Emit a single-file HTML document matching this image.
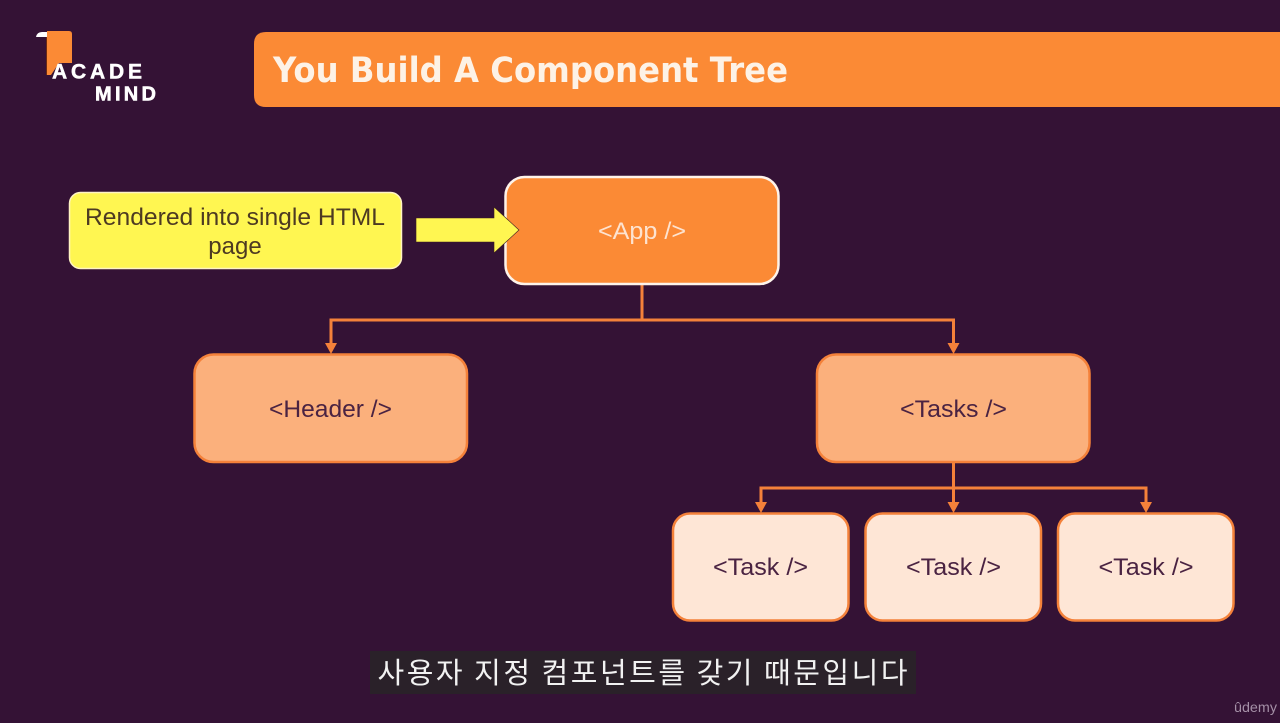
<!DOCTYPE html>
<html>
<head>
<meta charset="utf-8">
<style>
html,body{margin:0;padding:0;background:#341235;}
body{width:1280px;height:723px;overflow:hidden;position:relative;}
svg{position:absolute;left:0;top:0;filter:blur(0.35px);}
</style>
</head>
<body>
<svg width="1280" height="723" viewBox="0 0 1280 723" xmlns="http://www.w3.org/2000/svg">
<rect width="1280" height="723" fill="#341235"/>

<!-- logo -->
<path d="M46 33 H47 V75 H46 Z" fill="#6b2a12"/>
<path d="M47 31 H69 Q72 31 72 34 V63 H59 L51 75 H47 Z" fill="#fb8a35"/>
<path d="M36 37 Q37 32 42 32 H47 V37 Z" fill="#fff"/>
<text x="52" y="78.500" font-weight="700" font-size="21" fill="#fff" stroke="#fff" stroke-width="0.5" textLength="90" lengthAdjust="spacing" style="font-family:'Liberation Sans',sans-serif">ACADE</text>
<text x="95" y="100.500" font-weight="700" font-size="20" fill="#fff" stroke="#fff" stroke-width="0.6" textLength="61" lengthAdjust="spacing" style="font-family:'Liberation Sans',sans-serif">MIND</text>

<!-- title bar -->
<path d="M266 32 H1280 V107 H266 Q254 107 254 95 V44 Q254 32 266 32 Z" fill="#fb8a35"/>
<text x="273" y="82" font-weight="700" font-size="35" fill="#fdf2e6" textLength="515" lengthAdjust="spacingAndGlyphs" style="font-family:'DejaVu Sans',sans-serif">You Build A Component Tree</text>

<!-- yellow note -->
<rect x="69.500" y="192.500" width="332" height="76" rx="11" fill="#fff651" stroke="#fff3c4" stroke-width="1.500"/>
<text x="235" y="225" text-anchor="middle" font-size="24" fill="#4d3a22" textLength="300" lengthAdjust="spacingAndGlyphs" style="font-family:'Liberation Sans',sans-serif">Rendered into single HTML</text>
<text x="235" y="254" text-anchor="middle" font-size="24" fill="#4d3a22" style="font-family:'Liberation Sans',sans-serif">page</text>

<!-- connectors -->
<g fill="none" stroke="#f4813a" stroke-width="3">
<path d="M642 284 V320"/>
<path d="M331 345 V320 H953.500 V345"/>
<path d="M953.500 462 V505"/>
<path d="M761 505 V488 H1146 V505"/>
</g>
<g fill="#f4813a">
<path d="M325 343 H337 L331 354 Z"/>
<path d="M947.500 343 H959.500 L953.500 354 Z"/>
<path d="M755 502 H767 L761 513 Z"/>
<path d="M947.500 502 H959.500 L953.500 513 Z"/>
<path d="M1140 502 H1152 L1146 513 Z"/>
</g>

<!-- App -->
<rect x="505.500" y="177" width="273" height="107" rx="19" fill="#fb8a35" stroke="#fdf3ea" stroke-width="2.500"/>
<text x="642" y="239" text-anchor="middle" font-size="24" fill="#fde3d0" textLength="88" lengthAdjust="spacingAndGlyphs" style="font-family:'Liberation Sans',sans-serif">&lt;App /&gt;</text>

<!-- yellow arrow (over the App box) -->
<path d="M416 218 H494 V207 L519 230 L494 253 V242 H416 Z" fill="#fff651" stroke="#3a1d22" stroke-width="0.600"/>

<!-- Header / Tasks -->
<rect x="194.500" y="354.500" width="272.500" height="107.500" rx="19" fill="#fbb07c" stroke="#f4813a" stroke-width="2.500"/>
<text x="330.500" y="417" text-anchor="middle" font-size="24" fill="#4a2342" textLength="123" lengthAdjust="spacingAndGlyphs" style="font-family:'Liberation Sans',sans-serif">&lt;Header /&gt;</text>
<rect x="817" y="354.500" width="272.500" height="107.500" rx="19" fill="#fbb07c" stroke="#f4813a" stroke-width="2.500"/>
<text x="953.500" y="417" text-anchor="middle" font-size="24" fill="#4a2342" textLength="107" lengthAdjust="spacingAndGlyphs" style="font-family:'Liberation Sans',sans-serif">&lt;Tasks /&gt;</text>

<!-- Tasks -->
<rect x="673" y="513.500" width="175.500" height="107" rx="17" fill="#fee6d6" stroke="#f4813a" stroke-width="2.500"/>
<text x="760.500" y="575" text-anchor="middle" font-size="24" fill="#4a2342" textLength="95" lengthAdjust="spacingAndGlyphs" style="font-family:'Liberation Sans',sans-serif">&lt;Task /&gt;</text>
<rect x="865.500" y="513.500" width="175.500" height="107" rx="17" fill="#fee6d6" stroke="#f4813a" stroke-width="2.500"/>
<text x="953.500" y="575" text-anchor="middle" font-size="24" fill="#4a2342" textLength="95" lengthAdjust="spacingAndGlyphs" style="font-family:'Liberation Sans',sans-serif">&lt;Task /&gt;</text>
<rect x="1058" y="513.500" width="175.500" height="107" rx="17" fill="#fee6d6" stroke="#f4813a" stroke-width="2.500"/>
<text x="1146" y="575" text-anchor="middle" font-size="24" fill="#4a2342" textLength="95" lengthAdjust="spacingAndGlyphs" style="font-family:'Liberation Sans',sans-serif">&lt;Task /&gt;</text>

<!-- subtitle -->
<rect x="370" y="651" width="546" height="43" fill="#2a2129"/>
<text x="642.500" y="683" text-anchor="middle" font-size="29" fill="#f2f2f2" textLength="530" lengthAdjust="spacing" style="font-family:'Noto Sans CJK KR','NanumGothic',sans-serif">사용자 지정 컴포넌트를 갖기 때문입니다</text>

<!-- udemy -->
<text x="1234" y="712" font-size="14" fill="#a48fa6" textLength="43" lengthAdjust="spacingAndGlyphs" style="font-family:'Liberation Sans',sans-serif">ûdemy</text>
</svg>
</body>
</html>
